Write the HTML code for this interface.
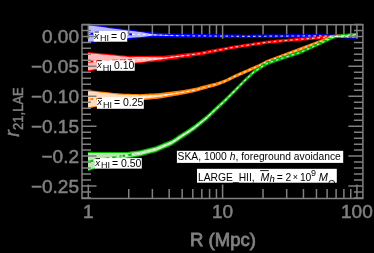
<!DOCTYPE html>
<html><head><meta charset="utf-8"><style>
html,body{margin:0;padding:0;background:#000;width:374px;height:253px;overflow:hidden}
svg{display:block;will-change:transform}
</style></head><body>
<svg width="374" height="253" viewBox="0 0 374 253">
<rect x="0" y="0" width="374" height="253" fill="#000"/>
<clipPath id="pc"><rect x="82.0" y="24.7" width="280.9" height="173.8"/></clipPath>
<g clip-path="url(#pc)">
<path d="M88.00,24.15 L90.00,24.42 L92.00,24.69 L94.00,24.95 L96.00,25.22 L98.00,25.49 L100.00,25.76 L102.00,26.03 L104.00,26.30 L106.00,26.56 L108.00,26.83 L110.00,27.10 L112.00,27.37 L114.00,27.64 L116.00,27.91 L118.00,28.17 L120.00,28.44 L122.00,28.71 L124.00,28.98 L126.00,29.25 L128.00,29.52 L129.00,29.65 L130.00,29.77 L132.00,30.00 L134.00,30.23 L136.00,30.47 L138.00,30.70 L140.00,30.93 L142.00,31.17 L144.00,31.40 L146.00,31.63 L148.00,31.87 L150.00,32.10 L152.00,32.33 L153.00,32.45 L154.00,32.50 L156.00,32.60 L158.00,32.70 L160.00,32.80 L162.00,32.90 L164.00,33.00 L166.00,33.10 L168.00,33.20 L170.00,33.30 L172.00,33.40 L174.00,33.50 L175.00,33.55 L176.00,33.57 L178.00,33.61 L180.00,33.65 L182.00,33.69 L184.00,33.73 L186.00,33.77 L188.00,33.81 L190.00,33.85 L192.00,33.89 L194.00,33.93 L196.00,33.97 L198.00,34.01 L200.00,34.05 L202.00,34.09 L204.00,34.13 L206.00,34.17 L208.00,34.21 L210.00,34.25 L212.00,34.27 L214.00,34.30 L216.00,34.32 L218.00,34.35 L220.00,34.37 L222.00,34.39 L224.00,34.42 L226.00,34.44 L228.00,34.47 L230.00,34.49 L232.00,34.51 L234.00,34.54 L236.00,34.56 L238.00,34.58 L240.00,34.61 L242.00,34.63 L244.00,34.66 L245.00,34.67 L246.00,34.66 L248.00,34.65 L250.00,34.63 L252.00,34.62 L254.00,34.60 L256.00,34.59 L258.00,34.57 L260.00,34.56 L262.00,34.54 L264.00,34.53 L266.00,34.51 L268.00,34.50 L270.00,34.48 L272.00,34.47 L274.00,34.45 L276.00,34.44 L278.00,34.42 L280.00,34.41 L282.00,34.39 L284.00,34.38 L286.00,34.36 L288.00,34.35 L290.00,34.33 L292.00,34.32 L294.00,34.30 L296.00,34.29 L298.00,34.27 L300.00,34.26 L302.00,34.24 L304.00,34.23 L306.00,34.21 L308.00,34.20 L310.00,34.18 L312.00,34.17 L314.00,34.15 L316.00,34.14 L318.00,34.12 L320.00,34.11 L322.00,34.18 L324.00,34.25 L326.00,34.32 L328.00,34.39 L330.00,34.46 L332.00,34.53 L334.00,34.60 L334.50,34.62 L336.00,34.67 L338.00,34.75 L340.00,34.83 L342.00,34.91 L344.00,34.98 L346.00,35.06 L348.00,35.14 L350.00,35.22 L352.00,35.29 L354.00,35.37 L356.00,35.45 L358.00,35.53 L358.00,38.87 L356.00,38.80 L354.00,38.72 L352.00,38.65 L350.00,38.57 L348.00,38.49 L346.00,38.42 L344.00,38.34 L342.00,38.27 L340.00,38.19 L338.00,38.12 L336.00,38.04 L334.50,37.98 L334.00,37.97 L332.00,37.90 L330.00,37.83 L328.00,37.76 L326.00,37.70 L324.00,37.63 L322.00,37.56 L320.00,37.49 L318.00,37.51 L316.00,37.53 L314.00,37.54 L312.00,37.56 L310.00,37.58 L308.00,37.59 L306.00,37.61 L304.00,37.63 L302.00,37.65 L300.00,37.66 L298.00,37.68 L296.00,37.70 L294.00,37.71 L292.00,37.73 L290.00,37.75 L288.00,37.76 L286.00,37.78 L284.00,37.80 L282.00,37.82 L280.00,37.83 L278.00,37.85 L276.00,37.87 L274.00,37.88 L272.00,37.90 L270.00,37.92 L268.00,37.94 L266.00,37.95 L264.00,37.97 L262.00,37.99 L260.00,38.00 L258.00,38.02 L256.00,38.04 L254.00,38.05 L252.00,38.07 L250.00,38.09 L248.00,38.11 L246.00,38.12 L245.00,38.13 L244.00,38.12 L242.00,38.10 L240.00,38.08 L238.00,38.06 L236.00,38.03 L234.00,38.01 L232.00,37.99 L230.00,37.97 L228.00,37.95 L226.00,37.92 L224.00,37.90 L222.00,37.88 L220.00,37.86 L218.00,37.84 L216.00,37.82 L214.00,37.79 L212.00,37.77 L210.00,37.75 L208.00,37.74 L206.00,37.74 L204.00,37.73 L202.00,37.73 L200.00,37.72 L198.00,37.72 L196.00,37.71 L194.00,37.70 L192.00,37.70 L190.00,37.69 L188.00,37.69 L186.00,37.68 L184.00,37.68 L182.00,37.67 L180.00,37.66 L178.00,37.66 L176.00,37.65 L175.00,37.65 L174.00,37.64 L172.00,37.61 L170.00,37.58 L168.00,37.55 L166.00,37.53 L164.00,37.50 L162.00,37.47 L160.00,37.45 L158.00,37.42 L156.00,37.39 L154.00,37.36 L153.00,37.35 L152.00,37.42 L150.00,37.55 L148.00,37.68 L146.00,37.82 L144.00,37.95 L142.00,38.08 L140.00,38.22 L138.00,38.35 L136.00,38.48 L134.00,38.62 L132.00,38.75 L130.00,38.88 L129.00,38.95 L128.00,39.05 L126.00,39.25 L124.00,39.45 L122.00,39.65 L120.00,39.85 L118.00,40.05 L116.00,40.25 L114.00,40.45 L112.00,40.65 L110.00,40.85 L108.00,41.05 L106.00,41.25 L104.00,41.45 L102.00,41.65 L100.00,41.85 L98.00,42.05 L96.00,42.25 L94.00,42.45 L92.00,42.65 L90.00,42.85 L88.00,43.05 Z" fill="#0000ff"/>
<path d="M88.00,25.20 L90.00,25.47 L92.00,25.74 L94.00,26.00 L96.00,26.27 L98.00,26.54 L100.00,26.81 L102.00,27.08 L104.00,27.35 L106.00,27.61 L108.00,27.88 L110.00,28.15 L112.00,28.42 L114.00,28.69 L116.00,28.96 L118.00,29.22 L120.00,29.49 L122.00,29.76 L124.00,30.03 L126.00,30.30 L128.00,30.57 L129.00,30.70 L130.00,30.82 L132.00,31.05 L134.00,31.28 L136.00,31.52 L138.00,31.75 L140.00,31.98 L142.00,32.22 L144.00,32.59 L146.00,32.97 L148.00,33.35 L150.00,33.73 L152.00,34.11 L153.00,34.30 L154.00,34.35 L156.00,34.45 L158.00,34.55 L160.00,34.65 L162.00,34.75 L164.00,34.85 L166.00,34.95 L168.00,35.05 L170.00,35.15 L172.00,35.25 L174.00,35.35 L175.00,35.40 L176.00,35.42 L178.00,35.46 L180.00,35.50 L182.00,35.54 L184.00,35.58 L186.00,35.62 L188.00,35.66 L190.00,35.70 L192.00,35.74 L194.00,35.78 L196.00,35.82 L198.00,35.86 L200.00,35.89 L202.00,35.91 L204.00,35.93 L206.00,35.95 L208.00,35.98 L210.00,36.00 L212.00,36.02 L214.00,36.05 L216.00,36.07 L218.00,36.09 L220.00,36.11 L222.00,36.14 L224.00,36.16 L226.00,36.18 L228.00,36.21 L230.00,36.23 L232.00,36.25 L234.00,36.27 L236.00,36.30 L238.00,36.32 L240.00,36.34 L242.00,36.37 L244.00,36.39 L245.00,36.40 L246.00,36.39 L248.00,36.38 L250.00,36.36 L252.00,36.34 L254.00,36.33 L256.00,36.31 L258.00,36.30 L260.00,36.28 L262.00,36.26 L264.00,36.25 L266.00,36.23 L268.00,36.22 L270.00,36.20 L272.00,36.18 L274.00,36.17 L276.00,36.15 L278.00,36.14 L280.00,36.12 L282.00,36.10 L284.00,36.09 L286.00,36.07 L288.00,36.06 L290.00,36.04 L292.00,36.02 L294.00,36.01 L296.00,35.99 L298.00,35.98 L300.00,35.96 L302.00,35.94 L304.00,35.93 L306.00,35.91 L308.00,35.90 L310.00,35.88 L312.00,35.86 L314.00,35.85 L316.00,35.83 L318.00,35.82 L320.00,35.80 L322.00,35.87 L324.00,35.94 L326.00,36.01 L328.00,36.08 L330.00,36.14 L332.00,36.21 L334.00,36.28 L334.50,36.30 L336.00,36.36 L338.00,36.43 L340.00,36.51 L342.00,36.59 L344.00,36.66 L346.00,36.74 L348.00,36.82 L350.00,36.89 L352.00,36.97 L354.00,37.05 L356.00,37.12 L358.00,37.20 L358.00,37.20 L356.00,37.12 L354.00,37.05 L352.00,36.97 L350.00,36.89 L348.00,36.82 L346.00,36.74 L344.00,36.66 L342.00,36.59 L340.00,36.51 L338.00,36.43 L336.00,36.36 L334.50,36.30 L334.00,36.28 L332.00,36.21 L330.00,36.14 L328.00,36.08 L326.00,36.01 L324.00,35.94 L322.00,35.87 L320.00,35.80 L318.00,35.82 L316.00,35.83 L314.00,35.85 L312.00,35.86 L310.00,35.88 L308.00,35.90 L306.00,35.91 L304.00,35.93 L302.00,35.94 L300.00,35.96 L298.00,35.98 L296.00,35.99 L294.00,36.01 L292.00,36.02 L290.00,36.04 L288.00,36.06 L286.00,36.07 L284.00,36.09 L282.00,36.10 L280.00,36.12 L278.00,36.14 L276.00,36.15 L274.00,36.17 L272.00,36.18 L270.00,36.20 L268.00,36.22 L266.00,36.23 L264.00,36.25 L262.00,36.26 L260.00,36.28 L258.00,36.30 L256.00,36.31 L254.00,36.33 L252.00,36.34 L250.00,36.36 L248.00,36.38 L246.00,36.39 L245.00,36.40 L244.00,36.39 L242.00,36.37 L240.00,36.34 L238.00,36.32 L236.00,36.30 L234.00,36.27 L232.00,36.25 L230.00,36.23 L228.00,36.21 L226.00,36.18 L224.00,36.16 L222.00,36.14 L220.00,36.11 L218.00,36.09 L216.00,36.07 L214.00,36.05 L212.00,36.02 L210.00,36.00 L208.00,35.98 L206.00,35.95 L204.00,35.93 L202.00,35.91 L200.00,35.89 L198.00,35.87 L196.00,35.86 L194.00,35.85 L192.00,35.85 L190.00,35.84 L188.00,35.84 L186.00,35.83 L184.00,35.83 L182.00,35.82 L180.00,35.81 L178.00,35.81 L176.00,35.80 L175.00,35.80 L174.00,35.79 L172.00,35.76 L170.00,35.73 L168.00,35.70 L166.00,35.68 L164.00,35.65 L162.00,35.62 L160.00,35.60 L158.00,35.57 L156.00,35.54 L154.00,35.51 L153.00,35.50 L152.00,35.64 L150.00,35.92 L148.00,36.20 L146.00,36.48 L144.00,36.76 L142.00,37.03 L140.00,37.17 L138.00,37.30 L136.00,37.43 L134.00,37.57 L132.00,37.70 L130.00,37.83 L129.00,37.90 L128.00,38.00 L126.00,38.20 L124.00,38.40 L122.00,38.60 L120.00,38.80 L118.00,39.00 L116.00,39.20 L114.00,39.40 L112.00,39.60 L110.00,39.80 L108.00,40.00 L106.00,40.20 L104.00,40.40 L102.00,40.60 L100.00,40.80 L98.00,41.00 L96.00,41.20 L94.00,41.40 L92.00,41.60 L90.00,41.80 L88.00,42.00 Z" fill="#b8b8ff"/>
<path d="M88.00,52.00 L90.00,52.20 L92.00,52.40 L94.00,52.59 L96.00,52.79 L98.00,52.99 L100.00,53.19 L102.00,53.38 L104.00,53.58 L106.00,53.78 L108.00,53.98 L110.00,54.17 L112.00,54.37 L114.00,54.57 L116.00,54.77 L118.00,54.96 L120.00,55.16 L122.00,55.36 L124.00,55.56 L126.00,55.75 L128.00,55.95 L130.00,56.15 L132.00,56.12 L134.00,56.09 L136.00,56.06 L138.00,56.04 L140.00,56.01 L142.00,55.98 L144.00,55.95 L146.00,55.92 L148.00,55.89 L150.00,55.86 L152.00,55.84 L154.00,55.81 L156.00,55.78 L158.00,55.75 L160.00,55.72 L162.00,55.69 L164.00,55.66 L165.00,55.65 L166.00,55.54 L168.00,55.32 L170.00,55.09 L172.00,54.87 L174.00,54.65 L176.00,54.42 L178.00,54.20 L180.00,53.98 L182.00,53.76 L184.00,53.53 L186.00,53.31 L188.00,53.09 L190.00,52.86 L192.00,52.64 L194.00,52.42 L196.00,52.20 L198.00,51.97 L200.00,51.75 L202.00,51.39 L204.00,51.03 L206.00,50.67 L208.00,50.30 L210.00,49.94 L212.00,49.58 L214.00,49.22 L216.00,48.86 L218.00,48.50 L220.00,48.14 L222.00,47.77 L224.00,47.41 L226.00,47.05 L228.00,46.69 L230.00,46.33 L232.00,45.97 L234.00,45.60 L236.00,45.30 L238.00,45.00 L240.00,44.70 L242.00,44.40 L244.00,44.10 L246.00,43.80 L248.00,43.50 L250.00,43.20 L252.00,42.90 L254.00,42.60 L256.00,42.30 L258.00,42.00 L260.00,41.70 L262.00,41.40 L264.00,41.10 L266.00,40.80 L268.00,40.60 L270.00,40.40 L272.00,40.20 L274.00,40.00 L276.00,39.80 L278.00,39.60 L280.00,39.40 L282.00,39.23 L284.00,39.07 L286.00,38.90 L288.00,38.74 L290.00,38.57 L292.00,38.41 L294.00,38.24 L296.00,38.08 L298.00,37.91 L300.00,37.75 L302.00,37.58 L304.00,37.42 L306.00,37.25 L308.00,37.09 L310.00,36.92 L312.00,36.76 L314.00,36.59 L316.00,36.43 L318.00,36.26 L320.00,36.10 L322.00,35.93 L324.00,35.77 L326.00,35.60 L328.00,35.44 L330.00,35.27 L332.00,35.11 L334.00,34.94 L334.50,34.90 L336.00,34.89 L338.00,34.87 L340.00,34.85 L342.00,34.84 L344.00,34.82 L346.00,34.80 L348.00,34.79 L350.00,34.77 L352.00,34.75 L354.00,34.73 L356.00,34.72 L358.00,34.70 L358.00,37.90 L356.00,37.92 L354.00,37.93 L352.00,37.95 L350.00,37.97 L348.00,37.99 L346.00,38.00 L344.00,38.02 L342.00,38.04 L340.00,38.05 L338.00,38.07 L336.00,38.09 L334.50,38.10 L334.00,38.14 L332.00,38.31 L330.00,38.47 L328.00,38.64 L326.00,38.80 L324.00,38.97 L322.00,39.13 L320.00,39.30 L318.00,39.46 L316.00,39.63 L314.00,39.79 L312.00,39.96 L310.00,40.12 L308.00,40.29 L306.00,40.45 L304.00,40.62 L302.00,40.78 L300.00,40.95 L298.00,41.11 L296.00,41.28 L294.00,41.44 L292.00,41.61 L290.00,41.77 L288.00,41.94 L286.00,42.10 L284.00,42.27 L282.00,42.43 L280.00,42.60 L278.00,42.80 L276.00,43.00 L274.00,43.20 L272.00,43.40 L270.00,43.60 L268.00,43.80 L266.00,44.00 L264.00,44.30 L262.00,44.60 L260.00,44.90 L258.00,45.20 L256.00,45.50 L254.00,45.80 L252.00,46.10 L250.00,46.40 L248.00,46.70 L246.00,47.00 L244.00,47.30 L242.00,47.60 L240.00,47.90 L238.00,48.20 L236.00,48.50 L234.00,48.80 L232.00,49.19 L230.00,49.58 L228.00,49.97 L226.00,50.36 L224.00,50.75 L222.00,51.14 L220.00,51.54 L218.00,51.93 L216.00,52.32 L214.00,52.71 L212.00,53.10 L210.00,53.49 L208.00,53.88 L206.00,54.28 L204.00,54.67 L202.00,55.06 L200.00,55.45 L198.00,55.74 L196.00,56.03 L194.00,56.32 L192.00,56.62 L190.00,56.91 L188.00,57.20 L186.00,57.49 L184.00,57.78 L182.00,58.07 L180.00,58.36 L178.00,58.66 L176.00,58.95 L174.00,59.24 L172.00,59.53 L170.00,59.82 L168.00,60.11 L166.00,60.40 L165.00,60.55 L164.00,60.66 L162.00,60.87 L160.00,61.08 L158.00,61.29 L156.00,61.50 L154.00,61.71 L152.00,61.92 L150.00,62.14 L148.00,62.35 L146.00,62.56 L144.00,62.77 L142.00,62.98 L140.00,63.19 L138.00,63.40 L136.00,63.62 L134.00,63.83 L132.00,64.04 L130.00,64.25 L128.00,64.59 L126.00,64.93 L124.00,65.27 L122.00,65.61 L120.00,65.95 L118.00,66.29 L116.00,66.63 L114.00,66.97 L112.00,67.31 L110.00,67.65 L108.00,68.00 L106.00,68.34 L104.00,68.68 L102.00,69.02 L100.00,69.36 L98.00,69.70 L96.00,70.04 L94.00,70.38 L92.00,70.72 L90.00,71.06 L88.00,71.40 Z" fill="#ff0000"/>
<path d="M88.00,53.05 L90.00,53.25 L92.00,53.45 L94.00,53.64 L96.00,53.84 L98.00,54.04 L100.00,54.24 L102.00,54.43 L104.00,54.63 L106.00,54.83 L108.00,55.03 L110.00,55.22 L112.00,55.42 L114.00,55.62 L116.00,55.82 L118.00,56.01 L120.00,56.21 L122.00,56.41 L124.00,56.61 L126.00,56.80 L128.00,57.00 L130.00,57.20 L132.00,57.17 L134.00,57.14 L136.00,57.11 L138.00,57.09 L140.00,57.06 L142.00,57.03 L144.00,57.03 L146.00,57.08 L148.00,57.12 L150.00,57.17 L152.00,57.21 L154.00,57.25 L156.00,57.30 L158.00,57.34 L160.00,57.39 L162.00,57.43 L164.00,57.48 L165.00,57.50 L166.00,57.39 L168.00,57.17 L170.00,56.94 L172.00,56.72 L174.00,56.50 L176.00,56.27 L178.00,56.05 L180.00,55.83 L182.00,55.61 L184.00,55.38 L186.00,55.16 L188.00,54.94 L190.00,54.71 L192.00,54.49 L194.00,54.27 L196.00,54.05 L198.00,53.82 L200.00,53.60 L202.00,53.22 L204.00,52.85 L206.00,52.47 L208.00,52.09 L210.00,51.72 L212.00,51.34 L214.00,50.96 L216.00,50.59 L218.00,50.21 L220.00,49.84 L222.00,49.46 L224.00,49.08 L226.00,48.71 L228.00,48.33 L230.00,47.95 L232.00,47.58 L234.00,47.20 L236.00,46.90 L238.00,46.60 L240.00,46.30 L242.00,46.00 L244.00,45.70 L246.00,45.40 L248.00,45.10 L250.00,44.80 L252.00,44.50 L254.00,44.20 L256.00,43.90 L258.00,43.60 L260.00,43.30 L262.00,43.00 L264.00,42.70 L266.00,42.40 L268.00,42.20 L270.00,42.00 L272.00,41.80 L274.00,41.60 L276.00,41.40 L278.00,41.20 L280.00,41.00 L282.00,40.83 L284.00,40.67 L286.00,40.50 L288.00,40.34 L290.00,40.17 L292.00,40.01 L294.00,39.84 L296.00,39.68 L298.00,39.51 L300.00,39.35 L302.00,39.18 L304.00,39.02 L306.00,38.85 L308.00,38.69 L310.00,38.52 L312.00,38.36 L314.00,38.19 L316.00,38.03 L318.00,37.86 L320.00,37.70 L322.00,37.53 L324.00,37.37 L326.00,37.20 L328.00,37.04 L330.00,36.87 L332.00,36.71 L334.00,36.54 L334.50,36.50 L336.00,36.49 L338.00,36.47 L340.00,36.45 L342.00,36.44 L344.00,36.42 L346.00,36.40 L348.00,36.39 L350.00,36.37 L352.00,36.35 L354.00,36.33 L356.00,36.32 L358.00,36.30 L358.00,36.30 L356.00,36.32 L354.00,36.33 L352.00,36.35 L350.00,36.37 L348.00,36.39 L346.00,36.40 L344.00,36.42 L342.00,36.44 L340.00,36.45 L338.00,36.47 L336.00,36.49 L334.50,36.50 L334.00,36.54 L332.00,36.71 L330.00,36.87 L328.00,37.04 L326.00,37.20 L324.00,37.37 L322.00,37.53 L320.00,37.70 L318.00,37.86 L316.00,38.03 L314.00,38.19 L312.00,38.36 L310.00,38.52 L308.00,38.69 L306.00,38.85 L304.00,39.02 L302.00,39.18 L300.00,39.35 L298.00,39.51 L296.00,39.68 L294.00,39.84 L292.00,40.01 L290.00,40.17 L288.00,40.34 L286.00,40.50 L284.00,40.67 L282.00,40.83 L280.00,41.00 L278.00,41.20 L276.00,41.40 L274.00,41.60 L272.00,41.80 L270.00,42.00 L268.00,42.20 L266.00,42.40 L264.00,42.70 L262.00,43.00 L260.00,43.30 L258.00,43.60 L256.00,43.90 L254.00,44.20 L252.00,44.50 L250.00,44.80 L248.00,45.10 L246.00,45.40 L244.00,45.70 L242.00,46.00 L240.00,46.30 L238.00,46.60 L236.00,46.90 L234.00,47.20 L232.00,47.58 L230.00,47.95 L228.00,48.33 L226.00,48.71 L224.00,49.08 L222.00,49.46 L220.00,49.84 L218.00,50.21 L216.00,50.59 L214.00,50.96 L212.00,51.34 L210.00,51.72 L208.00,52.09 L206.00,52.47 L204.00,52.85 L202.00,53.22 L200.00,53.60 L198.00,53.89 L196.00,54.18 L194.00,54.47 L192.00,54.77 L190.00,55.06 L188.00,55.35 L186.00,55.64 L184.00,55.93 L182.00,56.22 L180.00,56.51 L178.00,56.81 L176.00,57.10 L174.00,57.39 L172.00,57.68 L170.00,57.97 L168.00,58.26 L166.00,58.55 L165.00,58.70 L164.00,58.84 L162.00,59.13 L160.00,59.41 L158.00,59.70 L156.00,59.98 L154.00,60.27 L152.00,60.55 L150.00,60.83 L148.00,61.12 L146.00,61.40 L144.00,61.69 L142.00,61.93 L140.00,62.14 L138.00,62.35 L136.00,62.57 L134.00,62.78 L132.00,62.99 L130.00,63.20 L128.00,63.54 L126.00,63.88 L124.00,64.22 L122.00,64.56 L120.00,64.90 L118.00,65.24 L116.00,65.58 L114.00,65.92 L112.00,66.26 L110.00,66.60 L108.00,66.95 L106.00,67.29 L104.00,67.63 L102.00,67.97 L100.00,68.31 L98.00,68.65 L96.00,68.99 L94.00,69.33 L92.00,69.67 L90.00,70.01 L88.00,70.35 Z" fill="#ffb8b8"/>
<path d="M88.00,90.15 L90.00,90.36 L92.00,90.58 L94.00,90.79 L96.00,91.00 L98.00,91.21 L100.00,91.42 L102.00,91.64 L104.00,91.85 L106.00,92.06 L108.00,92.28 L110.00,92.49 L112.00,92.70 L114.00,92.91 L116.00,93.12 L118.00,93.34 L120.00,93.55 L122.00,93.61 L124.00,93.67 L126.00,93.73 L128.00,93.79 L130.00,93.85 L132.00,93.91 L134.00,93.97 L136.00,94.03 L138.00,94.09 L140.00,94.15 L142.00,94.04 L144.00,93.94 L146.00,93.83 L148.00,93.73 L150.00,93.62 L152.00,93.52 L154.00,93.42 L156.00,93.31 L158.00,93.20 L160.00,93.10 L162.00,92.85 L164.00,92.59 L166.00,92.34 L168.00,92.08 L170.00,91.83 L172.00,91.58 L174.00,91.32 L176.00,91.07 L178.00,90.81 L180.00,90.56 L181.40,90.37 L182.00,90.26 L184.00,89.90 L186.00,89.54 L188.00,89.18 L190.00,88.83 L192.00,88.47 L194.00,88.11 L196.00,87.75 L198.00,87.19 L200.00,86.62 L202.00,86.06 L202.80,85.83 L204.00,85.54 L206.00,85.06 L208.00,84.57 L210.00,84.08 L212.00,83.60 L214.00,83.11 L215.70,82.70 L216.00,82.59 L218.00,81.91 L220.00,81.23 L222.00,80.53 L224.00,79.83 L224.20,79.75 L226.00,78.89 L228.00,77.92 L230.00,76.96 L232.00,76.00 L234.00,75.03 L236.00,74.07 L238.00,73.20 L240.00,72.32 L242.00,71.45 L244.00,70.58 L246.00,69.71 L247.90,68.88 L248.00,68.84 L250.00,67.96 L252.00,67.08 L254.00,66.20 L256.00,65.32 L258.00,64.44 L259.70,63.69 L260.00,63.53 L262.00,62.47 L264.00,61.40 L266.00,60.33 L266.80,59.90 L268.00,59.47 L270.00,58.75 L272.00,58.03 L274.00,57.31 L275.10,56.91 L276.00,56.57 L278.00,55.83 L280.00,55.08 L282.00,54.33 L284.00,53.58 L286.00,52.83 L288.00,52.08 L290.00,51.33 L292.00,50.59 L294.00,49.84 L296.00,49.09 L298.00,48.34 L300.00,47.59 L302.00,46.84 L304.00,46.09 L306.00,45.35 L308.00,44.60 L310.00,43.85 L312.00,43.10 L314.00,42.35 L316.00,41.60 L318.00,40.85 L320.00,40.10 L322.00,39.36 L324.00,38.61 L326.00,37.86 L328.00,37.11 L330.00,36.36 L332.00,35.61 L334.00,34.86 L334.50,34.68 L336.00,34.60 L338.00,34.49 L340.00,34.38 L342.00,34.27 L344.00,34.16 L346.00,34.05 L348.00,33.95 L350.00,33.84 L352.00,33.73 L354.00,33.62 L356.00,33.51 L358.00,33.40 L358.00,36.60 L356.00,36.71 L354.00,36.82 L352.00,36.94 L350.00,37.05 L348.00,37.16 L346.00,37.27 L344.00,37.39 L342.00,37.50 L340.00,37.61 L338.00,37.73 L336.00,37.84 L334.50,37.92 L334.00,38.11 L332.00,38.86 L330.00,39.62 L328.00,40.37 L326.00,41.12 L324.00,41.88 L322.00,42.63 L320.00,43.38 L318.00,44.14 L316.00,44.89 L314.00,45.64 L312.00,46.39 L310.00,47.15 L308.00,47.90 L306.00,48.65 L304.00,49.41 L302.00,50.16 L300.00,50.91 L298.00,51.67 L296.00,52.42 L294.00,53.17 L292.00,53.93 L290.00,54.68 L288.00,55.43 L286.00,56.18 L284.00,56.94 L282.00,57.69 L280.00,58.44 L278.00,59.20 L276.00,59.95 L275.10,60.29 L274.00,60.69 L272.00,61.41 L270.00,62.14 L268.00,62.86 L266.80,63.30 L266.00,63.73 L264.00,64.80 L262.00,65.87 L260.00,66.94 L259.70,67.11 L258.00,67.86 L256.00,68.74 L254.00,69.62 L252.00,70.51 L250.00,71.39 L248.00,72.27 L247.90,72.32 L246.00,73.15 L244.00,74.03 L242.00,74.90 L240.00,75.78 L238.00,76.66 L236.00,77.53 L234.00,78.50 L232.00,79.47 L230.00,80.44 L228.00,81.41 L226.00,82.37 L224.20,83.25 L224.00,83.32 L222.00,84.02 L220.00,84.73 L218.00,85.46 L216.00,86.19 L215.70,86.30 L214.00,86.76 L212.00,87.30 L210.00,87.83 L208.00,88.37 L206.00,88.91 L204.00,89.44 L202.80,89.77 L202.00,90.01 L200.00,90.62 L198.00,91.24 L196.00,91.85 L194.00,92.26 L192.00,92.67 L190.00,93.08 L188.00,93.48 L186.00,93.89 L184.00,94.30 L182.00,94.71 L181.40,94.83 L180.00,95.06 L178.00,95.40 L176.00,95.75 L174.00,96.09 L172.00,96.44 L170.00,96.78 L168.00,97.12 L166.00,97.47 L164.00,97.81 L162.00,98.16 L160.00,98.50 L158.00,98.70 L156.00,98.89 L154.00,99.08 L152.00,99.28 L150.00,99.47 L148.00,99.67 L146.00,99.86 L144.00,100.06 L142.00,100.25 L140.00,100.45 L138.00,100.75 L136.00,101.05 L134.00,101.35 L132.00,101.65 L130.00,101.95 L128.00,102.25 L126.00,102.55 L124.00,102.85 L122.00,103.15 L120.00,103.45 L118.00,103.75 L116.00,104.05 L114.00,104.35 L112.00,104.65 L110.00,104.95 L108.00,105.25 L106.00,105.55 L104.00,105.85 L102.00,106.15 L100.00,106.45 L98.00,106.75 L96.00,107.05 L94.00,107.35 L92.00,107.65 L90.00,107.95 L88.00,108.25 Z" fill="#ff8000"/>
<path d="M88.00,91.20 L90.00,91.41 L92.00,91.62 L94.00,91.84 L96.00,92.05 L98.00,92.26 L100.00,92.47 L102.00,92.69 L104.00,92.90 L106.00,93.11 L108.00,93.33 L110.00,93.54 L112.00,93.75 L114.00,93.96 L116.00,94.18 L118.00,94.39 L120.00,94.60 L122.00,94.66 L124.00,94.72 L126.00,94.78 L128.00,94.84 L130.00,94.90 L132.00,94.96 L134.00,95.02 L136.00,95.08 L138.00,95.24 L140.00,95.44 L142.00,95.37 L144.00,95.30 L146.00,95.23 L148.00,95.16 L150.00,95.09 L152.00,95.03 L154.00,94.96 L156.00,94.89 L158.00,94.82 L160.00,94.75 L162.00,94.53 L164.00,94.31 L166.00,94.10 L168.00,93.88 L170.00,93.66 L172.00,93.43 L174.00,93.17 L176.00,92.92 L178.00,92.66 L180.00,92.41 L181.40,92.22 L182.00,92.11 L184.00,91.75 L186.00,91.39 L188.00,91.03 L190.00,90.68 L192.00,90.32 L194.00,89.96 L196.00,89.60 L198.00,89.04 L200.00,88.47 L202.00,87.91 L202.80,87.69 L204.00,87.39 L206.00,86.91 L208.00,86.42 L210.00,85.93 L212.00,85.45 L214.00,84.93 L215.70,84.50 L216.00,84.39 L218.00,83.69 L220.00,82.98 L222.00,82.28 L224.00,81.57 L224.20,81.50 L226.00,80.63 L228.00,79.66 L230.00,78.70 L232.00,77.73 L234.00,76.77 L236.00,75.80 L238.00,74.93 L240.00,74.05 L242.00,73.18 L244.00,72.30 L246.00,71.43 L247.90,70.60 L248.00,70.56 L250.00,69.67 L252.00,68.79 L254.00,67.91 L256.00,67.03 L258.00,66.15 L259.70,65.40 L260.00,65.24 L262.00,64.17 L264.00,63.10 L266.00,62.03 L266.80,61.60 L268.00,61.17 L270.00,60.44 L272.00,59.72 L274.00,59.00 L275.10,58.60 L276.00,58.26 L278.00,57.51 L280.00,56.76 L282.00,56.01 L284.00,55.26 L286.00,54.51 L288.00,53.76 L290.00,53.01 L292.00,52.26 L294.00,51.50 L296.00,50.75 L298.00,50.00 L300.00,49.25 L302.00,48.50 L304.00,47.75 L306.00,47.00 L308.00,46.25 L310.00,45.50 L312.00,44.75 L314.00,44.00 L316.00,43.25 L318.00,42.49 L320.00,41.74 L322.00,40.99 L324.00,40.24 L326.00,39.49 L328.00,38.74 L330.00,37.99 L332.00,37.24 L334.00,36.49 L334.50,36.30 L336.00,36.22 L338.00,36.11 L340.00,36.00 L342.00,35.89 L344.00,35.77 L346.00,35.66 L348.00,35.55 L350.00,35.44 L352.00,35.33 L354.00,35.22 L356.00,35.11 L358.00,35.00 L358.00,35.00 L356.00,35.11 L354.00,35.22 L352.00,35.33 L350.00,35.44 L348.00,35.55 L346.00,35.66 L344.00,35.77 L342.00,35.89 L340.00,36.00 L338.00,36.11 L336.00,36.22 L334.50,36.30 L334.00,36.49 L332.00,37.24 L330.00,37.99 L328.00,38.74 L326.00,39.49 L324.00,40.24 L322.00,40.99 L320.00,41.74 L318.00,42.49 L316.00,43.25 L314.00,44.00 L312.00,44.75 L310.00,45.50 L308.00,46.25 L306.00,47.00 L304.00,47.75 L302.00,48.50 L300.00,49.25 L298.00,50.00 L296.00,50.75 L294.00,51.50 L292.00,52.26 L290.00,53.01 L288.00,53.76 L286.00,54.51 L284.00,55.26 L282.00,56.01 L280.00,56.76 L278.00,57.51 L276.00,58.26 L275.10,58.60 L274.00,59.00 L272.00,59.72 L270.00,60.44 L268.00,61.17 L266.80,61.60 L266.00,62.03 L264.00,63.10 L262.00,64.17 L260.00,65.24 L259.70,65.40 L258.00,66.15 L256.00,67.03 L254.00,67.91 L252.00,68.79 L250.00,69.67 L248.00,70.56 L247.90,70.60 L246.00,71.43 L244.00,72.30 L242.00,73.18 L240.00,74.05 L238.00,74.93 L236.00,75.80 L234.00,76.77 L232.00,77.73 L230.00,78.70 L228.00,79.66 L226.00,80.63 L224.20,81.50 L224.00,81.57 L222.00,82.28 L220.00,82.98 L218.00,83.69 L216.00,84.39 L215.70,84.50 L214.00,84.93 L212.00,85.45 L210.00,85.98 L208.00,86.52 L206.00,87.06 L204.00,87.59 L202.80,87.91 L202.00,88.16 L200.00,88.77 L198.00,89.39 L196.00,90.00 L194.00,90.41 L192.00,90.82 L190.00,91.23 L188.00,91.63 L186.00,92.04 L184.00,92.45 L182.00,92.86 L181.40,92.98 L180.00,93.21 L178.00,93.55 L176.00,93.90 L174.00,94.24 L172.00,94.59 L170.00,94.95 L168.00,95.33 L166.00,95.71 L164.00,96.09 L162.00,96.47 L160.00,96.85 L158.00,97.08 L156.00,97.31 L154.00,97.54 L152.00,97.77 L150.00,98.00 L148.00,98.24 L146.00,98.47 L144.00,98.70 L142.00,98.93 L140.00,99.16 L138.00,99.60 L136.00,100.00 L134.00,100.30 L132.00,100.60 L130.00,100.90 L128.00,101.20 L126.00,101.50 L124.00,101.80 L122.00,102.10 L120.00,102.40 L118.00,102.70 L116.00,103.00 L114.00,103.30 L112.00,103.60 L110.00,103.90 L108.00,104.20 L106.00,104.50 L104.00,104.80 L102.00,105.10 L100.00,105.40 L98.00,105.70 L96.00,106.00 L94.00,106.30 L92.00,106.60 L90.00,106.90 L88.00,107.20 Z" fill="#ffdcbe"/>
<path d="M88.00,151.85 L90.00,151.86 L92.00,151.87 L94.00,151.88 L96.00,151.89 L98.00,151.90 L100.00,151.91 L102.00,151.92 L104.00,151.93 L106.00,151.94 L108.00,151.95 L110.00,151.96 L112.00,151.97 L114.00,151.98 L116.00,151.99 L118.00,152.00 L120.00,152.01 L122.00,152.02 L124.00,152.03 L126.00,152.04 L127.00,152.05 L128.00,151.90 L130.00,151.61 L132.00,151.32 L134.00,151.02 L136.00,150.73 L138.00,150.43 L140.00,150.14 L142.00,149.64 L144.00,149.14 L146.00,148.64 L148.00,148.14 L150.00,147.65 L152.00,147.15 L154.00,146.65 L156.00,146.15 L158.00,145.32 L160.00,144.50 L162.00,143.68 L164.00,142.85 L166.00,142.03 L168.00,141.21 L170.00,140.38 L172.00,139.56 L174.00,138.23 L176.00,136.91 L178.00,135.58 L180.00,134.25 L182.00,132.93 L182.30,132.73 L184.00,131.68 L186.00,130.44 L188.00,129.21 L188.70,128.77 L190.00,127.87 L192.00,126.49 L194.00,125.11 L195.00,124.42 L196.00,123.61 L198.00,122.01 L200.00,120.40 L201.30,119.37 L202.00,118.81 L204.00,117.23 L206.00,115.64 L207.00,114.85 L208.00,113.91 L210.00,112.03 L212.00,110.15 L214.00,108.27 L215.70,106.67 L216.00,106.40 L218.00,104.56 L220.00,102.73 L222.00,100.90 L224.00,99.07 L225.60,97.61 L226.00,97.21 L228.00,95.22 L230.00,93.23 L232.00,91.23 L234.00,89.24 L235.50,87.75 L236.00,87.24 L238.00,85.23 L240.00,83.22 L242.00,81.21 L244.00,79.19 L245.30,77.88 L246.00,77.24 L248.00,75.38 L250.00,73.53 L252.00,71.66 L253.80,69.98 L254.00,69.85 L256.00,68.51 L258.00,67.17 L259.70,66.03 L260.00,65.84 L262.00,64.59 L264.00,63.34 L266.00,62.09 L266.80,61.58 L268.00,61.16 L270.00,60.45 L272.00,59.75 L274.00,59.04 L275.10,58.65 L276.00,58.37 L278.00,57.74 L280.00,57.12 L282.00,56.49 L284.00,55.86 L286.00,55.24 L288.00,54.61 L290.00,53.98 L292.00,53.36 L294.00,52.73 L296.00,52.10 L298.00,51.48 L300.00,50.85 L302.00,49.95 L304.00,49.05 L306.00,48.16 L308.00,47.26 L310.00,46.36 L312.00,45.46 L314.00,44.56 L316.00,43.67 L318.00,42.77 L320.00,41.87 L322.00,40.95 L324.00,40.03 L326.00,39.10 L328.00,38.18 L330.00,37.26 L332.00,36.34 L334.00,35.42 L334.50,35.18 L336.00,35.01 L338.00,34.77 L340.00,34.53 L342.00,34.30 L344.00,34.06 L346.00,33.83 L348.00,33.59 L350.00,33.35 L352.00,33.11 L354.00,32.88 L356.00,32.64 L358.00,32.40 L358.00,35.60 L356.00,35.84 L354.00,36.08 L352.00,36.31 L350.00,36.55 L348.00,36.79 L346.00,37.03 L344.00,37.27 L342.00,37.51 L340.00,37.75 L338.00,37.99 L336.00,38.24 L334.50,38.42 L334.00,38.65 L332.00,39.57 L330.00,40.50 L328.00,41.43 L326.00,42.35 L324.00,43.28 L322.00,44.20 L320.00,45.13 L318.00,46.03 L316.00,46.93 L314.00,47.84 L312.00,48.74 L310.00,49.64 L308.00,50.54 L306.00,51.44 L304.00,52.35 L302.00,53.25 L300.00,54.15 L298.00,54.81 L296.00,55.47 L294.00,56.13 L292.00,56.78 L290.00,57.44 L288.00,58.10 L286.00,58.76 L284.00,59.42 L282.00,60.08 L280.00,60.74 L278.00,61.39 L276.00,62.05 L275.10,62.35 L274.00,62.76 L272.00,63.49 L270.00,64.23 L268.00,64.97 L266.80,65.42 L266.00,65.93 L264.00,67.21 L262.00,68.50 L260.00,69.78 L259.70,69.97 L258.00,71.14 L256.00,72.51 L254.00,73.88 L253.80,74.02 L252.00,75.73 L250.00,77.63 L248.00,79.54 L246.00,81.45 L245.30,82.12 L244.00,83.46 L242.00,85.53 L240.00,87.60 L238.00,89.67 L236.00,91.74 L235.50,92.25 L234.00,93.79 L232.00,95.84 L230.00,97.89 L228.00,99.93 L226.00,101.98 L225.60,102.39 L224.00,103.90 L222.00,105.79 L220.00,107.67 L218.00,109.56 L216.00,111.45 L215.70,111.73 L214.00,113.38 L212.00,115.31 L210.00,117.25 L208.00,119.18 L207.00,120.15 L206.00,120.97 L204.00,122.62 L202.00,124.26 L201.30,124.83 L200.00,125.90 L198.00,127.54 L196.00,129.17 L195.00,129.98 L194.00,130.69 L192.00,132.10 L190.00,133.51 L188.70,134.43 L188.00,134.87 L186.00,136.13 L184.00,137.40 L182.30,138.47 L182.00,138.67 L180.00,140.03 L178.00,141.38 L176.00,142.73 L174.00,144.09 L172.00,145.44 L170.00,146.29 L168.00,147.14 L166.00,148.00 L164.00,148.85 L162.00,149.70 L160.00,150.55 L158.00,151.40 L156.00,152.25 L154.00,152.78 L152.00,153.30 L150.00,153.83 L148.00,154.36 L146.00,154.88 L144.00,155.41 L142.00,155.93 L140.00,156.46 L138.00,156.78 L136.00,157.10 L134.00,157.43 L132.00,157.75 L130.00,158.07 L128.00,158.39 L127.00,158.55 L126.00,158.87 L124.00,159.52 L122.00,160.17 L120.00,160.81 L118.00,161.46 L116.00,162.10 L114.00,162.75 L112.00,163.40 L110.00,164.04 L108.00,164.69 L106.00,165.33 L104.00,165.98 L102.00,166.63 L100.00,167.27 L98.00,167.92 L96.00,168.57 L94.00,169.21 L92.00,169.86 L90.00,170.50 L88.00,171.15 Z" fill="#00b400"/>
<path d="M88.00,152.90 L90.00,152.91 L92.00,152.92 L94.00,152.93 L96.00,152.94 L98.00,152.95 L100.00,152.96 L102.00,152.97 L104.00,152.98 L106.00,152.99 L108.00,153.00 L110.00,153.01 L112.00,153.02 L114.00,153.03 L116.00,153.04 L118.00,153.05 L120.00,153.06 L122.00,153.07 L124.00,153.08 L126.00,153.12 L127.00,153.26 L128.00,153.12 L130.00,152.84 L132.00,152.55 L134.00,152.27 L136.00,151.99 L138.00,151.70 L140.00,151.42 L142.00,150.93 L144.00,150.44 L146.00,149.96 L148.00,149.47 L150.00,148.98 L152.00,148.49 L154.00,148.01 L156.00,147.52 L158.00,146.70 L160.00,145.89 L162.00,145.08 L164.00,144.27 L166.00,143.45 L168.00,142.64 L170.00,141.83 L172.00,141.01 L174.00,139.70 L176.00,138.38 L178.00,137.07 L180.00,135.75 L182.00,134.44 L182.30,134.24 L184.00,133.20 L186.00,131.97 L188.00,130.75 L188.70,130.32 L190.00,129.43 L192.00,128.06 L194.00,126.68 L195.00,126.00 L196.00,125.20 L198.00,123.61 L200.00,122.01 L201.30,120.99 L202.00,120.45 L204.00,118.88 L206.00,117.32 L207.00,116.54 L208.00,115.61 L210.00,113.75 L212.00,111.89 L214.00,110.03 L215.70,108.46 L216.00,108.18 L218.00,106.38 L220.00,104.57 L222.00,102.75 L224.00,100.92 L225.60,99.46 L226.00,99.06 L228.00,97.07 L230.00,95.08 L232.00,93.08 L234.00,91.09 L235.50,89.60 L236.00,89.09 L238.00,87.08 L240.00,85.07 L242.00,83.06 L244.00,81.04 L245.30,79.73 L246.00,79.09 L248.00,77.23 L250.00,75.38 L252.00,73.51 L253.80,71.83 L254.00,71.70 L256.00,70.36 L258.00,69.02 L259.70,67.88 L260.00,67.69 L262.00,66.44 L264.00,65.19 L266.00,63.94 L266.80,63.43 L268.00,63.01 L270.00,62.30 L272.00,61.60 L274.00,60.89 L275.10,60.50 L276.00,60.21 L278.00,59.57 L280.00,58.93 L282.00,58.28 L284.00,57.64 L286.00,57.00 L288.00,56.36 L290.00,55.71 L292.00,55.07 L294.00,54.43 L296.00,53.79 L298.00,53.14 L300.00,52.50 L302.00,51.60 L304.00,50.70 L306.00,49.80 L308.00,48.90 L310.00,48.00 L312.00,47.10 L314.00,46.20 L316.00,45.30 L318.00,44.40 L320.00,43.50 L322.00,42.58 L324.00,41.65 L326.00,40.73 L328.00,39.80 L330.00,38.88 L332.00,37.96 L334.00,37.03 L334.50,36.80 L336.00,36.62 L338.00,36.38 L340.00,36.14 L342.00,35.91 L344.00,35.67 L346.00,35.43 L348.00,35.19 L350.00,34.95 L352.00,34.71 L354.00,34.48 L356.00,34.24 L358.00,34.00 L358.00,34.00 L356.00,34.24 L354.00,34.48 L352.00,34.71 L350.00,34.95 L348.00,35.19 L346.00,35.43 L344.00,35.67 L342.00,35.91 L340.00,36.14 L338.00,36.38 L336.00,36.62 L334.50,36.80 L334.00,37.03 L332.00,37.96 L330.00,38.88 L328.00,39.80 L326.00,40.73 L324.00,41.65 L322.00,42.58 L320.00,43.50 L318.00,44.40 L316.00,45.30 L314.00,46.20 L312.00,47.10 L310.00,48.00 L308.00,48.90 L306.00,49.80 L304.00,50.70 L302.00,51.60 L300.00,52.50 L298.00,53.14 L296.00,53.79 L294.00,54.43 L292.00,55.07 L290.00,55.71 L288.00,56.36 L286.00,57.00 L284.00,57.64 L282.00,58.28 L280.00,58.93 L278.00,59.57 L276.00,60.21 L275.10,60.50 L274.00,60.91 L272.00,61.64 L270.00,62.38 L268.00,63.12 L266.80,63.57 L266.00,64.08 L264.00,65.36 L262.00,66.65 L260.00,67.93 L259.70,68.12 L258.00,69.29 L256.00,70.66 L254.00,72.03 L253.80,72.17 L252.00,73.88 L250.00,75.78 L248.00,77.69 L246.00,79.60 L245.30,80.27 L244.00,81.61 L242.00,83.68 L240.00,85.75 L238.00,87.82 L236.00,89.89 L235.50,90.40 L234.00,91.94 L232.00,93.99 L230.00,96.04 L228.00,98.08 L226.00,100.13 L225.60,100.54 L224.00,102.05 L222.00,103.94 L220.00,105.84 L218.00,107.75 L216.00,109.66 L215.70,109.94 L214.00,111.61 L212.00,113.57 L210.00,115.53 L208.00,117.48 L207.00,118.46 L206.00,119.30 L204.00,120.96 L202.00,122.62 L201.30,123.21 L200.00,124.29 L198.00,125.94 L196.00,127.58 L195.00,128.40 L194.00,129.11 L192.00,130.53 L190.00,131.96 L188.70,132.88 L188.00,133.33 L186.00,134.60 L184.00,135.87 L182.30,136.96 L182.00,137.16 L180.00,138.53 L178.00,139.89 L176.00,141.26 L174.00,142.62 L172.00,143.99 L170.00,144.85 L168.00,145.71 L166.00,146.57 L164.00,147.43 L162.00,148.30 L160.00,149.16 L158.00,150.02 L156.00,150.88 L154.00,151.42 L152.00,151.96 L150.00,152.49 L148.00,153.03 L146.00,153.57 L144.00,154.11 L142.00,154.64 L140.00,155.18 L138.00,155.51 L136.00,155.84 L134.00,156.18 L132.00,156.51 L130.00,156.84 L128.00,157.17 L127.00,157.34 L126.00,157.79 L124.00,158.47 L122.00,159.12 L120.00,159.76 L118.00,160.41 L116.00,161.05 L114.00,161.70 L112.00,162.35 L110.00,162.99 L108.00,163.64 L106.00,164.28 L104.00,164.93 L102.00,165.58 L100.00,166.22 L98.00,166.87 L96.00,167.52 L94.00,168.16 L92.00,168.81 L90.00,169.45 L88.00,170.10 Z" fill="#b8e6ae"/>
<path d="M88.00,33.60 L90.00,33.63 L92.00,33.67 L94.00,33.70 L96.00,33.74 L98.00,33.77 L100.00,33.80 L102.00,33.84 L104.00,33.87 L106.00,33.91 L108.00,33.94 L110.00,33.98 L112.00,34.01 L114.00,34.04 L116.00,34.08 L118.00,34.11 L120.00,34.15 L122.00,34.18 L124.00,34.21 L126.00,34.25 L128.00,34.28 L129.00,34.30 L130.00,34.32 L132.00,34.38" fill="none" stroke="#0000ff" stroke-width="2" stroke-dasharray="5.5,2.5"/>
<path d="M88.00,33.60 L90.00,33.63 L92.00,33.67 L94.00,33.70 L96.00,33.74 L98.00,33.77 L100.00,33.80 L102.00,33.84 L104.00,33.87 L106.00,33.91 L108.00,33.94 L110.00,33.98 L112.00,34.01 L114.00,34.04 L116.00,34.08 L118.00,34.11 L120.00,34.15 L122.00,34.18 L124.00,34.21 L126.00,34.25 L128.00,34.28 L129.00,34.30 L130.00,34.32 L132.00,34.38 L134.00,34.42 L136.00,34.47 L138.00,34.52 L140.00,34.57 L142.00,34.62 L144.00,34.67 L146.00,34.73 L148.00,34.77 L150.00,34.82 L152.00,34.88 L153.00,34.90 L154.00,34.93 L156.00,35.00 L158.00,35.06 L160.00,35.12 L162.00,35.19 L164.00,35.25 L166.00,35.31 L168.00,35.38 L170.00,35.44 L172.00,35.50 L174.00,35.57 L175.00,35.60 L176.00,35.61 L178.00,35.63 L180.00,35.66 L182.00,35.68 L184.00,35.70 L186.00,35.73 L188.00,35.75 L190.00,35.77 L192.00,35.79 L194.00,35.82 L196.00,35.84 L198.00,35.86 L200.00,35.89 L202.00,35.91 L204.00,35.93 L206.00,35.95 L208.00,35.98 L210.00,36.00 L212.00,36.02 L214.00,36.05 L216.00,36.07 L218.00,36.09 L220.00,36.11 L222.00,36.14 L224.00,36.16 L226.00,36.18 L228.00,36.21 L230.00,36.23 L232.00,36.25 L234.00,36.27 L236.00,36.30 L238.00,36.32 L240.00,36.34 L242.00,36.37 L244.00,36.39 L245.00,36.40 L246.00,36.39 L248.00,36.38 L250.00,36.36 L252.00,36.34 L254.00,36.33 L256.00,36.31 L258.00,36.30 L260.00,36.28 L262.00,36.26 L264.00,36.25 L266.00,36.23 L268.00,36.22 L270.00,36.20 L272.00,36.18 L274.00,36.17 L276.00,36.15 L278.00,36.14 L280.00,36.12 L282.00,36.10 L284.00,36.09 L286.00,36.07 L288.00,36.06 L290.00,36.04 L292.00,36.02 L294.00,36.01 L296.00,35.99 L298.00,35.98 L300.00,35.96 L302.00,35.94 L304.00,35.93 L306.00,35.91 L308.00,35.90 L310.00,35.88 L312.00,35.86 L314.00,35.85 L316.00,35.83 L318.00,35.82 L320.00,35.80 L322.00,35.87 L324.00,35.94 L326.00,36.01 L328.00,36.08 L330.00,36.14 L332.00,36.21 L334.00,36.28 L334.50,36.30 L336.00,36.36 L338.00,36.43 L340.00,36.51 L342.00,36.59 L344.00,36.66 L346.00,36.74 L348.00,36.82 L350.00,36.89 L352.00,36.97 L354.00,37.05 L356.00,37.12 L358.00,37.20" fill="none" stroke="#ffffff" stroke-width="1.2" stroke-dasharray="2.6,2.9" opacity="0.7"/>
<path d="M88.00,61.70 L90.00,61.63 L92.00,61.56 L94.00,61.49 L96.00,61.41 L98.00,61.34 L100.00,61.27 L102.00,61.20 L104.00,61.13 L106.00,61.06 L108.00,60.99 L110.00,60.91 L112.00,60.84 L114.00,60.77 L116.00,60.70 L118.00,60.63 L120.00,60.56 L122.00,60.49 L124.00,60.41 L126.00,60.34 L128.00,60.27 L130.00,60.20 L132.00,60.08" fill="none" stroke="#ff0000" stroke-width="2" stroke-dasharray="5.5,2.5"/>
<path d="M88.00,61.70 L90.00,61.63 L92.00,61.56 L94.00,61.49 L96.00,61.41 L98.00,61.34 L100.00,61.27 L102.00,61.20 L104.00,61.13 L106.00,61.06 L108.00,60.99 L110.00,60.91 L112.00,60.84 L114.00,60.77 L116.00,60.70 L118.00,60.63 L120.00,60.56 L122.00,60.49 L124.00,60.41 L126.00,60.34 L128.00,60.27 L130.00,60.20 L132.00,60.08 L134.00,59.96 L136.00,59.84 L138.00,59.72 L140.00,59.60 L142.00,59.48 L144.00,59.36 L146.00,59.24 L148.00,59.12 L150.00,59.00 L152.00,58.88 L154.00,58.76 L156.00,58.64 L158.00,58.52 L160.00,58.40 L162.00,58.28 L164.00,58.16 L165.00,58.10 L166.00,57.97 L168.00,57.71 L170.00,57.46 L172.00,57.20 L174.00,56.94 L176.00,56.69 L178.00,56.43 L180.00,56.17 L182.00,55.91 L184.00,55.66 L186.00,55.40 L188.00,55.14 L190.00,54.89 L192.00,54.63 L194.00,54.37 L196.00,54.11 L198.00,53.86 L200.00,53.60 L202.00,53.22 L204.00,52.85 L206.00,52.47 L208.00,52.09 L210.00,51.72 L212.00,51.34 L214.00,50.96 L216.00,50.59 L218.00,50.21 L220.00,49.84 L222.00,49.46 L224.00,49.08 L226.00,48.71 L228.00,48.33 L230.00,47.95 L232.00,47.58 L234.00,47.20 L236.00,46.90 L238.00,46.60 L240.00,46.30 L242.00,46.00 L244.00,45.70 L246.00,45.40 L248.00,45.10 L250.00,44.80 L252.00,44.50 L254.00,44.20 L256.00,43.90 L258.00,43.60 L260.00,43.30 L262.00,43.00 L264.00,42.70 L266.00,42.40 L268.00,42.20 L270.00,42.00 L272.00,41.80 L274.00,41.60 L276.00,41.40 L278.00,41.20 L280.00,41.00 L282.00,40.83 L284.00,40.67 L286.00,40.50 L288.00,40.34 L290.00,40.17 L292.00,40.01 L294.00,39.84 L296.00,39.68 L298.00,39.51 L300.00,39.35 L302.00,39.18 L304.00,39.02 L306.00,38.85 L308.00,38.69 L310.00,38.52 L312.00,38.36 L314.00,38.19 L316.00,38.03 L318.00,37.86 L320.00,37.70 L322.00,37.53 L324.00,37.37 L326.00,37.20 L328.00,37.04 L330.00,36.87 L332.00,36.71 L334.00,36.54 L334.50,36.50 L336.00,36.49 L338.00,36.47 L340.00,36.45 L342.00,36.44 L344.00,36.42 L346.00,36.40 L348.00,36.39 L350.00,36.37 L352.00,36.35 L354.00,36.33 L356.00,36.32 L358.00,36.30" fill="none" stroke="#ffffff" stroke-width="1.2" stroke-dasharray="2.6,2.9" opacity="0.7"/>
<path d="M88.00,99.20 L90.00,99.16 L92.00,99.11 L94.00,99.07 L96.00,99.03 L98.00,98.98 L100.00,98.94 L102.00,98.89 L104.00,98.85 L106.00,98.81 L108.00,98.76 L110.00,98.72 L112.00,98.67 L114.00,98.63 L116.00,98.59 L118.00,98.54 L120.00,98.50 L122.00,98.38 L124.00,98.26 L126.00,98.14 L128.00,98.02 L130.00,97.90 L132.00,97.78" fill="none" stroke="#ff8000" stroke-width="2" stroke-dasharray="5.5,2.5"/>
<path d="M88.00,99.20 L90.00,99.16 L92.00,99.11 L94.00,99.07 L96.00,99.03 L98.00,98.98 L100.00,98.94 L102.00,98.89 L104.00,98.85 L106.00,98.81 L108.00,98.76 L110.00,98.72 L112.00,98.67 L114.00,98.63 L116.00,98.59 L118.00,98.54 L120.00,98.50 L122.00,98.38 L124.00,98.26 L126.00,98.14 L128.00,98.02 L130.00,97.90 L132.00,97.78 L134.00,97.66 L136.00,97.54 L138.00,97.42 L140.00,97.30 L142.00,97.15 L144.00,97.00 L146.00,96.85 L148.00,96.70 L150.00,96.55 L152.00,96.40 L154.00,96.25 L156.00,96.10 L158.00,95.95 L160.00,95.80 L162.00,95.50 L164.00,95.20 L166.00,94.90 L168.00,94.60 L170.00,94.30 L172.00,94.01 L174.00,93.71 L176.00,93.41 L178.00,93.11 L180.00,92.81 L181.40,92.60 L182.00,92.48 L184.00,92.10 L186.00,91.72 L188.00,91.33 L190.00,90.95 L192.00,90.57 L194.00,90.18 L196.00,89.80 L198.00,89.21 L200.00,88.62 L202.00,88.04 L202.80,87.80 L204.00,87.49 L206.00,86.98 L208.00,86.47 L210.00,85.96 L212.00,85.45 L214.00,84.93 L215.70,84.50 L216.00,84.39 L218.00,83.69 L220.00,82.98 L222.00,82.28 L224.00,81.57 L224.20,81.50 L226.00,80.63 L228.00,79.66 L230.00,78.70 L232.00,77.73 L234.00,76.77 L236.00,75.80 L238.00,74.93 L240.00,74.05 L242.00,73.18 L244.00,72.30 L246.00,71.43 L247.90,70.60 L248.00,70.56 L250.00,69.67 L252.00,68.79 L254.00,67.91 L256.00,67.03 L258.00,66.15 L259.70,65.40 L260.00,65.24 L262.00,64.17 L264.00,63.10 L266.00,62.03 L266.80,61.60 L268.00,61.17 L270.00,60.44 L272.00,59.72 L274.00,59.00 L275.10,58.60 L276.00,58.26 L278.00,57.51 L280.00,56.76 L282.00,56.01 L284.00,55.26 L286.00,54.51 L288.00,53.76 L290.00,53.01 L292.00,52.26 L294.00,51.50 L296.00,50.75 L298.00,50.00 L300.00,49.25 L302.00,48.50 L304.00,47.75 L306.00,47.00 L308.00,46.25 L310.00,45.50 L312.00,44.75 L314.00,44.00 L316.00,43.25 L318.00,42.49 L320.00,41.74 L322.00,40.99 L324.00,40.24 L326.00,39.49 L328.00,38.74 L330.00,37.99 L332.00,37.24 L334.00,36.49 L334.50,36.30 L336.00,36.22 L338.00,36.11 L340.00,36.00 L342.00,35.89 L344.00,35.77 L346.00,35.66 L348.00,35.55 L350.00,35.44 L352.00,35.33 L354.00,35.22 L356.00,35.11 L358.00,35.00" fill="none" stroke="#ffffff" stroke-width="1.2" stroke-dasharray="2.6,2.9" opacity="0.7"/>
<path d="M88.00,161.50 L90.00,161.18 L92.00,160.86 L94.00,160.55 L96.00,160.23 L98.00,159.91 L100.00,159.59 L102.00,159.27 L104.00,158.96 L106.00,158.64 L108.00,158.32 L110.00,158.00 L112.00,157.68 L114.00,157.37 L116.00,157.05 L118.00,156.73 L120.00,156.41 L122.00,156.09 L124.00,155.78 L126.00,155.46 L127.00,155.30 L128.00,155.15 L130.00,154.84 L132.00,154.53" fill="none" stroke="#00b400" stroke-width="2" stroke-dasharray="5.5,2.5"/>
<path d="M88.00,161.50 L90.00,161.18 L92.00,160.86 L94.00,160.55 L96.00,160.23 L98.00,159.91 L100.00,159.59 L102.00,159.27 L104.00,158.96 L106.00,158.64 L108.00,158.32 L110.00,158.00 L112.00,157.68 L114.00,157.37 L116.00,157.05 L118.00,156.73 L120.00,156.41 L122.00,156.09 L124.00,155.78 L126.00,155.46 L127.00,155.30 L128.00,155.15 L130.00,154.84 L132.00,154.53 L134.00,154.22 L136.00,153.92 L138.00,153.61 L140.00,153.30 L142.00,152.79 L144.00,152.28 L146.00,151.76 L148.00,151.25 L150.00,150.74 L152.00,150.22 L154.00,149.71 L156.00,149.20 L158.00,148.36 L160.00,147.52 L162.00,146.69 L164.00,145.85 L166.00,145.01 L168.00,144.18 L170.00,143.34 L172.00,142.50 L174.00,141.16 L176.00,139.82 L178.00,138.48 L180.00,137.14 L182.00,135.80 L182.30,135.60 L184.00,134.54 L186.00,133.29 L188.00,132.04 L188.70,131.60 L190.00,130.69 L192.00,129.30 L194.00,127.90 L195.00,127.20 L196.00,126.39 L198.00,124.77 L200.00,123.15 L201.30,122.10 L202.00,121.54 L204.00,119.92 L206.00,118.31 L207.00,117.50 L208.00,116.55 L210.00,114.64 L212.00,112.73 L214.00,110.82 L215.70,109.20 L216.00,108.92 L218.00,107.06 L220.00,105.20 L222.00,103.35 L224.00,101.49 L225.60,100.00 L226.00,99.60 L228.00,97.58 L230.00,95.56 L232.00,93.54 L234.00,91.52 L235.50,90.00 L236.00,89.49 L238.00,87.45 L240.00,85.41 L242.00,83.37 L244.00,81.33 L245.30,80.00 L246.00,79.34 L248.00,77.46 L250.00,75.58 L252.00,73.69 L253.80,72.00 L254.00,71.86 L256.00,70.51 L258.00,69.15 L259.70,68.00 L260.00,67.81 L262.00,66.54 L264.00,65.27 L266.00,64.01 L266.80,63.50 L268.00,63.07 L270.00,62.34 L272.00,61.62 L274.00,60.90 L275.10,60.50 L276.00,60.21 L278.00,59.57 L280.00,58.93 L282.00,58.28 L284.00,57.64 L286.00,57.00 L288.00,56.36 L290.00,55.71 L292.00,55.07 L294.00,54.43 L296.00,53.79 L298.00,53.14 L300.00,52.50 L302.00,51.60 L304.00,50.70 L306.00,49.80 L308.00,48.90 L310.00,48.00 L312.00,47.10 L314.00,46.20 L316.00,45.30 L318.00,44.40 L320.00,43.50 L322.00,42.58 L324.00,41.65 L326.00,40.73 L328.00,39.80 L330.00,38.88 L332.00,37.96 L334.00,37.03 L334.50,36.80 L336.00,36.62 L338.00,36.38 L340.00,36.14 L342.00,35.91 L344.00,35.67 L346.00,35.43 L348.00,35.19 L350.00,34.95 L352.00,34.71 L354.00,34.48 L356.00,34.24 L358.00,34.00" fill="none" stroke="#ffffff" stroke-width="1.2" stroke-dasharray="2.6,2.9" opacity="0.7"/>
</g>
<g fill="#000" font-family='"Liberation Sans", sans-serif'><rect x="93.8" y="31" width="33.40" height="10.70" fill="#fff"/><line x1="94.4" y1="32.0" x2="99.00" y2="32.0" stroke="#000" stroke-width="0.9"/><text x="94.20" y="38.8" font-size="9.5" font-style="italic">x</text><text x="99.90" y="41.3" font-size="9">HI</text><text x="126.0" y="39.9" font-size="10.5" text-anchor="end">= 0</text><rect x="96.8" y="60.3" width="37.90" height="10.50" fill="#fff"/><line x1="97.2" y1="60.7" x2="101.80" y2="60.7" stroke="#000" stroke-width="0.9"/><text x="97.00" y="67.6" font-size="9.5" font-style="italic">x</text><text x="102.70" y="71.0" font-size="9">HI</text><text x="134.4" y="69.2" font-size="10.5" text-anchor="end">0.10</text><rect x="96.9" y="97.2" width="46.90" height="11.60" fill="#fff"/><line x1="97.4" y1="98.3" x2="102.00" y2="98.3" stroke="#000" stroke-width="0.9"/><text x="97.20" y="104.7" font-size="9.5" font-style="italic">x</text><text x="102.90" y="108.0" font-size="9">HI</text><text x="143.4" y="105.9" font-size="10.5" text-anchor="end">= 0.25</text><rect x="94.8" y="158.1" width="47.00" height="10.50" fill="#fff"/><line x1="95.4" y1="158.6" x2="100.00" y2="158.6" stroke="#000" stroke-width="0.9"/><text x="95.20" y="165.5" font-size="9.5" font-style="italic">x</text><text x="100.90" y="168.3" font-size="9">HI</text><text x="141.4" y="167.0" font-size="10.5" text-anchor="end">= 0.50</text><rect x="176.9" y="150.8" width="166.3" height="12.1" fill="#fff"/><text x="177.6" y="160.3" font-size="10.3">SKA, 1000 <tspan font-style="italic">h</tspan>, foreground avoidance</text><rect x="197" y="168.8" width="139.8" height="13.9" fill="#fff"/><text x="198" y="180.8" font-size="10.3">LARGE_HII, </text><line x1="260.1" y1="170.6" x2="268.7" y2="170.6" stroke="#000" stroke-width="0.9"/><text x="260.4" y="180.8" font-size="10.6" font-style="italic">M</text><svg x="197" y="168.8" width="139.8" height="13.9" overflow="hidden"><text x="72.6" y="13.6" font-size="9.6" font-style="italic">h</text><circle cx="134.8" cy="14.6" r="3" fill="none" stroke="#000" stroke-width="0.9"/></svg><text x="276.8" y="180.8" font-size="10.3">=</text><text x="285.4" y="180.8" font-size="10.3">2</text><text x="295.5" y="180.4" font-size="9" text-anchor="middle">×</text><text x="299.9" y="180.8" font-size="10.3">10</text><text x="311.0" y="176.3" font-size="9">9</text><text x="318.8" y="180.8" font-size="11" font-style="italic">M</text></g>
<path d="M88.30,198.5 v-14 M88.30,24.7 v14 M128.73,198.5 v-9.5 M128.73,24.7 v9.5 M152.38,198.5 v-9.5 M152.38,24.7 v9.5 M169.16,198.5 v-9.5 M169.16,24.7 v9.5 M182.17,198.5 v-9.5 M182.17,24.7 v9.5 M192.81,198.5 v-9.5 M192.81,24.7 v9.5 M201.80,198.5 v-9.5 M201.80,24.7 v9.5 M209.58,198.5 v-9.5 M209.58,24.7 v9.5 M216.45,198.5 v-9.5 M216.45,24.7 v9.5 M222.60,198.5 v-14 M222.60,24.7 v14 M263.03,198.5 v-9.5 M263.03,24.7 v9.5 M286.68,198.5 v-9.5 M286.68,24.7 v9.5 M303.46,198.5 v-9.5 M303.46,24.7 v9.5 M316.47,198.5 v-9.5 M316.47,24.7 v9.5 M327.11,198.5 v-9.5 M327.11,24.7 v9.5 M336.10,198.5 v-9.5 M336.10,24.7 v9.5 M343.88,198.5 v-9.5 M343.88,24.7 v9.5 M350.75,198.5 v-9.5 M350.75,24.7 v9.5 M356.90,198.5 v-14 M356.90,24.7 v14 M82.0,198.00 h9.0 M362.9,198.00 h-9.0 M82.0,192.01 h9.0 M362.9,192.01 h-9.0 M82.0,186.03 h14.5 M362.9,186.03 h-14.5 M82.0,180.04 h9.0 M362.9,180.04 h-9.0 M82.0,174.06 h9.0 M362.9,174.06 h-9.0 M82.0,168.07 h9.0 M362.9,168.07 h-9.0 M82.0,162.09 h9.0 M362.9,162.09 h-9.0 M82.0,156.10 h14.5 M362.9,156.10 h-14.5 M82.0,150.12 h9.0 M362.9,150.12 h-9.0 M82.0,144.13 h9.0 M362.9,144.13 h-9.0 M82.0,138.15 h9.0 M362.9,138.15 h-9.0 M82.0,132.16 h9.0 M362.9,132.16 h-9.0 M82.0,126.17 h14.5 M362.9,126.17 h-14.5 M82.0,120.19 h9.0 M362.9,120.19 h-9.0 M82.0,114.21 h9.0 M362.9,114.21 h-9.0 M82.0,108.22 h9.0 M362.9,108.22 h-9.0 M82.0,102.23 h9.0 M362.9,102.23 h-9.0 M82.0,96.25 h14.5 M362.9,96.25 h-14.5 M82.0,90.26 h9.0 M362.9,90.26 h-9.0 M82.0,84.28 h9.0 M362.9,84.28 h-9.0 M82.0,78.30 h9.0 M362.9,78.30 h-9.0 M82.0,72.31 h9.0 M362.9,72.31 h-9.0 M82.0,66.33 h14.5 M362.9,66.33 h-14.5 M82.0,60.34 h9.0 M362.9,60.34 h-9.0 M82.0,54.35 h9.0 M362.9,54.35 h-9.0 M82.0,48.37 h9.0 M362.9,48.37 h-9.0 M82.0,42.38 h9.0 M362.9,42.38 h-9.0 M82.0,36.40 h14.5 M362.9,36.40 h-14.5 M82.0,30.41 h9.0 M362.9,30.41 h-9.0 M82.0,24.43 h9.0 M362.9,24.43 h-9.0" stroke="#808080" stroke-width="1.5" fill="none"/>
<rect x="82.0" y="24.7" width="280.9" height="173.8" fill="none" stroke="#808080" stroke-width="1.5"/>
<g fill="#808080" stroke="#808080" stroke-width="0.5" font-family='"Liberation Sans", sans-serif' font-size="19"><text x="79" y="43.20" text-anchor="end">0.00</text><text x="79" y="73.12" text-anchor="end">−0.05</text><text x="79" y="103.05" text-anchor="end">−0.10</text><text x="79" y="132.97" text-anchor="end">−0.15</text><text x="79" y="162.90" text-anchor="end">−0.2</text><text x="79" y="192.83" text-anchor="end">−0.25</text><text x="88.30" y="218" text-anchor="middle">1</text><text x="222.60" y="218" text-anchor="middle">10</text><text x="356.90" y="218" text-anchor="middle">100</text></g>
<text x="223" y="245.9" text-anchor="middle" fill="#808080" stroke="#808080" stroke-width="0.8" font-family='"Liberation Sans", sans-serif' font-size="18.5">R (Mpc)</text>
<g transform="translate(18.6,136.8) rotate(-90)" fill="#808080" stroke="#808080" stroke-width="0.4" font-family='"Liberation Sans", sans-serif'><text x="0" y="0" font-size="19.5" font-style="italic">r</text><text transform="scale(1,1.13)" x="6.9" y="3.451" font-size="13">21,LAE</text></g>
</svg>
</body></html>
